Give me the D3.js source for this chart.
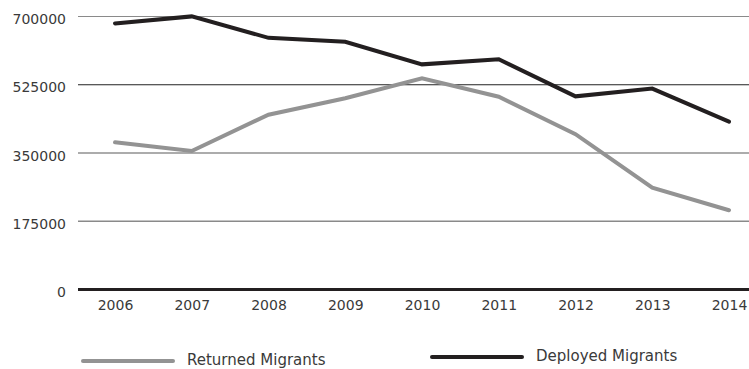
<!DOCTYPE html>
<html>
<head>
<meta charset="utf-8">
<script src="https://cdn.jsdelivr.net/npm/d3@7"></script>
<style>
  body { margin: 0; background: #fff; }
  svg { display: block; font-family: "DejaVu Sans", sans-serif; }
</style>
</head>
<body>
<svg id="chart" width="749" height="369"></svg>
<script>
const years = ['2006', '2007', '2008', '2009', '2010', '2011', '2012', '2013', '2014'];
const returned = [376000, 354000, 447000, 489000, 540000, 493000, 397000, 260000, 202000];
const deployed = [681000, 699000, 644000, 634000, 576000, 589000, 494000, 514000, 429000];
const yTicks = [0, 175000, 350000, 525000, 700000];

const svg = d3.select('#chart');

const x = d3.scalePoint().domain(years).range([115, 729]);
const y = d3.scaleLinear().domain([0, 700000]).range([289, 16]);

// gridlines + y labels
const gridColor = { 0: '#231f20', 175000: '#8a8a8a', 350000: '#5a5a5a', 525000: '#222', 700000: '#8a8a8a' };
const gridWidth = { 0: 3, 175000: 1.5, 350000: 1.2, 525000: 1, 700000: 1.2 };

const yAxis = svg.append('g')
  .attr('transform', 'translate(78,0)')
  .call(d3.axisLeft(y).tickValues(yTicks).tickSize(-671).tickPadding(12).tickFormat(d3.format('d')));
yAxis.select('.domain').remove();
yAxis.selectAll('.tick line')
  .attr('stroke', d => gridColor[d])
  .attr('stroke-width', d => gridWidth[d]);
yAxis.selectAll('.tick text')
  .attr('fill', '#3a3a3a')
  .attr('font-size', 14)
  .attr('dy', '0.55em')
  .style('font-family', '"DejaVu Sans", sans-serif');

// x labels
const xAxis = svg.append('g')
  .attr('transform', 'translate(0,289)')
  .call(d3.axisBottom(x).tickSize(0).tickPadding(11));
xAxis.select('.domain').remove();
xAxis.selectAll('.tick text')
  .attr('fill', '#3a3a3a')
  .attr('font-size', 14)
  .style('font-family', '"DejaVu Sans", sans-serif');

const line = d3.line()
  .x((d, i) => x(years[i]))
  .y(d => y(d));

svg.append('path')
  .datum(returned)
  .attr('d', line)
  .attr('fill', 'none')
  .attr('stroke', '#939393')
  .attr('stroke-width', 4)
  .attr('stroke-linecap', 'round');

svg.append('path')
  .datum(deployed)
  .attr('d', line)
  .attr('fill', 'none')
  .attr('stroke', '#231f20')
  .attr('stroke-width', 4)
  .attr('stroke-linecap', 'round');

// legend
const legend = [
  { name: 'Returned Migrants', color: '#939393', x: 83, y: 361 },
  { name: 'Deployed Migrants', color: '#231f20', x: 432, y: 357 },
];
const lg = svg.selectAll('.legend').data(legend).enter().append('g')
  .attr('class', 'legend')
  .attr('transform', d => `translate(${d.x},${d.y})`);
lg.append('line')
  .attr('x1', 0).attr('x2', 90)
  .attr('stroke', d => d.color)
  .attr('stroke-width', 4)
  .attr('stroke-linecap', 'round');
lg.append('text')
  .attr('x', 104)
  .attr('dy', '0.25em')
  .attr('font-size', 15)
  .attr('fill', '#3a3a3a')
  .text(d => d.name);
</script>
</body>
</html>
